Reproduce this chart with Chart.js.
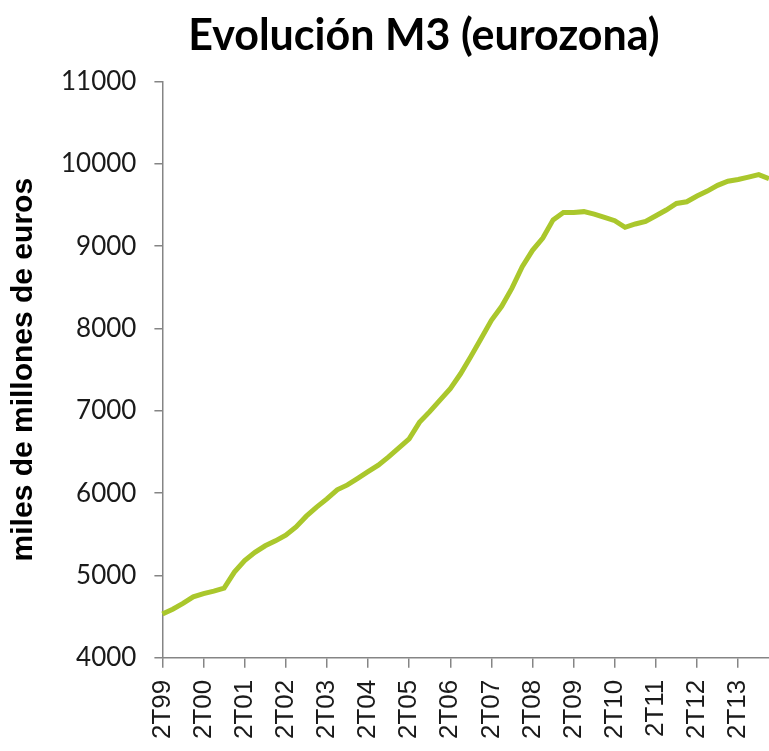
<!DOCTYPE html>
<html>
<head>
<meta charset="utf-8">
<script src="https://cdn.jsdelivr.net/npm/chart.js@4"></script>
<style>
  html, body { margin: 0; padding: 0; background: #ffffff; }
  #wrap { width: 769px; height: 751px; }
</style>
</head>
<body>
<div id="wrap"><canvas id="m3"></canvas></div>
<script>
//Quarters from 2T99 to 1T14
const quarters = [
  "2T99", "3T99", "4T99",
  "1T00", "2T00", "3T00", "4T00",
  "1T01", "2T01", "3T01", "4T01",
  "1T02", "2T02", "3T02", "4T02",
  "1T03", "2T03", "3T03", "4T03",
  "1T04", "2T04", "3T04", "4T04",
  "1T05", "2T05", "3T05", "4T05",
  "1T06", "2T06", "3T06", "4T06",
  "1T07", "2T07", "3T07", "4T07",
  "1T08", "2T08", "3T08", "4T08",
  "1T09", "2T09", "3T09", "4T09",
  "1T10", "2T10", "3T10", "4T10",
  "1T11", "2T11", "3T11", "4T11",
  "1T12", "2T12", "3T12", "4T12",
  "1T13", "2T13", "3T13", "4T13",
  "1T14",
];
//M3 stock, miles de millones de euros
const m3Values = [
  4530, 4590, 4660,
  4740, 4780, 4810, 4845,
  5040, 5180, 5280, 5360,
  5420, 5490, 5590, 5720,
  5830, 5930, 6040, 6100,
  6180, 6260, 6340, 6440,
  6550, 6660, 6860, 6990,
  7130, 7270, 7450, 7660,
  7880, 8100, 8270, 8490,
  8750, 8950, 9100, 9320,
  9410, 9410, 9420, 9390,
  9350, 9310, 9230, 9270,
  9300, 9370, 9440, 9520,
  9540, 9610, 9670, 9740,
  9790, 9810, 9840, 9870,
  9820,
];
const yTicks = [4000, 5000, 6000, 7000, 8000, 9000, 10000, 11000];
//only the second quarter of every year gets a label
const isLabelled = (i) => quarters[i] && quarters[i].startsWith("2T");

const axisGrey = "#858585";
const textDark = "#1a1a1a";

let m3Chart = new Chart(document.getElementById("m3"), {
  type: "line",
  data: {
    labels: quarters,
    datasets: [
      {
        data: m3Values,
        borderColor: "#aac72c",
        borderWidth: 5,
        pointRadius: 0,
        tension: 0,
        fill: false,
      },
    ],
  },
  options: {
    responsive: true,
    maintainAspectRatio: false,
    animation: false,
    layout: { padding: { left: 2, top: 0, right: 0, bottom: 0 } },
    plugins: {
      legend: { display: false },
      tooltip: { enabled: false },
      title: {
        display: true,
        //trailing spaces nudge the centred title left, like the original
        text: "Evolución M3 (eurozona)        ",
        fullSize: false,
        color: "#000000",
        font: { family: "Lato, 'Open Sans', sans-serif", size: 43, weight: "bold" },
        padding: { top: 10, bottom: 20 },
      },
    },
    scales: {
      x: {
        offset: false,
        border: { color: axisGrey, width: 1.5 },
        grid: {
          drawOnChartArea: false,
          drawTicks: true,
          tickLength: 10,
          color: (ctx) => (isLabelled(ctx.index) ? axisGrey : "rgba(0,0,0,0)"),
          lineWidth: 1.5,
        },
        ticks: {
          autoSkip: false,
          minRotation: 90,
          maxRotation: 90,
          padding: 12,
          color: textDark,
          font: { family: "'Liberation Sans', Arial, sans-serif", size: 26 },
          callback: function (value, index) {
            return isLabelled(index) ? this.getLabelForValue(value) : "";
          },
        },
        afterFit: (scale) => {
          scale.paddingRight = 0;
        },
      },
      y: {
        min: yTicks[0],
        max: yTicks[yTicks.length - 1],
        border: { color: axisGrey, width: 1.5 },
        grid: {
          drawOnChartArea: false,
          drawTicks: true,
          tickLength: 8,
          color: axisGrey,
          lineWidth: 1.5,
        },
        afterBuildTicks: (scale) => {
          scale.ticks = yTicks.map((v) => ({ value: v }));
        },
        ticks: {
          padding: 18,
          color: textDark,
          font: { family: "Lato, 'Liberation Sans', sans-serif", size: 26 },
          callback: (v) => String(v),
        },
        title: {
          display: true,
          text: "miles de millones de euros",
          color: "#000000",
          font: { family: "'Liberation Sans', Arial, sans-serif", size: 30, weight: "bold" },
          padding: { top: 4, bottom: 1 },
        },
      },
    },
  },
});
</script>
</body>
</html>
